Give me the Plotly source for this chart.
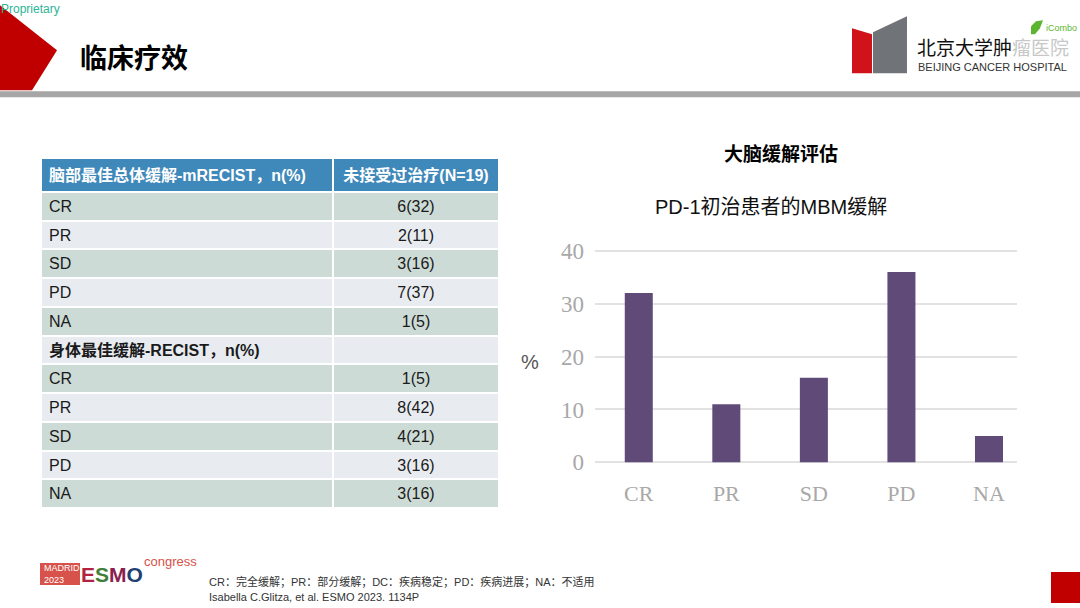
import plotly.graph_objects as go

W, H = 1080, 608

# ---------------- data ----------------
categories = ["CR", "PR", "SD", "PD", "NA"]
brain_pct_bars = [32, 11, 16, 36, 5]
y_ticks = [0, 10, 20, 30, 40]

table_header = ["脑部最佳总体缓解-mRECIST，n(%)", "未接受过治疗(N=19)"]
brain_labels = ["CR", "PR", "SD", "PD", "NA"]
brain_n = [6, 2, 3, 7, 1]
brain_pct = [32, 11, 16, 37, 5]
body_section = "身体最佳缓解-RECIST，n(%)"
body_labels = ["CR", "PR", "SD", "PD", "NA"]
body_n = [1, 8, 4, 3, 3]
body_pct = [5, 42, 21, 16, 16]

title_text = "临床疗效"
chart_title = "大脑缓解评估"
chart_subtitle = "PD-1初治患者的MBM缓解"
footnote1 = "CR：完全缓解；PR：部分缓解；DC：疾病稳定；PD：疾病进展；NA：不适用"
footnote2 = "Isabella C.Glitza, et al. ESMO 2023. 1134P"
esmo_letters = ["E", "S", "M", "O"]
esmo_colors = ["#b3233f", "#3f7f3a", "#8a1f4e", "#1f3f73"]

SANS = "Arial, 'Liberation Sans', 'Noto Sans CJK SC', sans-serif"
CJK = "'Noto Sans CJK SC', 'Liberation Sans', sans-serif"
SERIF = "'Liberation Serif', 'Times New Roman', serif"

# vertical calibration of paper coordinates in the photographed page
# (observed: shown = 6.8 + 0.9757 * set)
Y_OFF, Y_SCALE = 6.8, 0.9757


def px(x):
    return x / W


def py(y):
    return 1 - ((y - Y_OFF) / Y_SCALE) / H


def path(points):
    return "M " + " L ".join(f"{px(x):.5f},{py(y):.5f}" for x, y in points) + " Z"


fig = go.Figure()

# ---------------- table ----------------
TABLE_TOP, HEADER_H, ROW_H = 157.7, 33.3, 28.75
col1 = brain_labels + [""] + body_labels          # section title drawn as bold overlay text
col2 = [f"{n}({p})" for n, p in zip(brain_n, brain_pct)] + [""] + \
       [f"{n}({p})" for n, p in zip(body_n, body_pct)]
DARK = "#cddbd7"
LIGHT = "#e8ecf1"
row_fill = [DARK if i % 2 == 0 else LIGHT for i in range(len(col1))]

fig.add_trace(go.Table(
    domain=dict(x=[px(41), px(499)], y=[py(540), py(TABLE_TOP)]),
    columnwidth=[292, 166],
    header=dict(
        values=[f"<b>{h}</b>" for h in table_header],
        fill_color="#3f88ba",
        line=dict(color="white", width=2),
        align=["left", "center"],
        font=dict(family=SANS, size=16, color="white"),
        height=HEADER_H,
    ),
    cells=dict(
        values=[col1, col2],
        fill_color=[row_fill, row_fill],
        line=dict(color="white", width=2),
        align=["left", "center"],
        font=dict(family=SANS, size=16, color="#1a1a1a"),
        height=ROW_H,
    ),
))

# ---------------- bar chart ----------------
fig.add_trace(go.Bar(
    x=categories, y=brain_pct_bars,
    marker=dict(color="#5f4a78", line=dict(width=0)),
    width=0.32, hoverinfo="x+y", showlegend=False,
    xaxis="x", yaxis="y",
))

fig.update_layout(
    width=W, height=H,
    margin=dict(l=0, r=0, t=0, b=0),
    paper_bgcolor="white", plot_bgcolor="white",
    showlegend=False,
    xaxis=dict(
        domain=[px(595), px(1017)],
        range=[-0.5, 4.32],
        showgrid=False, zeroline=False, showline=False,
        ticks="", tickfont=dict(family=SERIF, size=22, color="#a8a8a8"),
        ticklabelstandoff=10,
    ),
    yaxis=dict(
        domain=[py(467.6), py(245.4)],
        range=[-1, 41],
        tickvals=y_ticks,
        showgrid=True, gridcolor="#e2e2e2", gridwidth=2,
        zeroline=False, showline=False, ticks="",
        tickfont=dict(family=SERIF, size=23, color="#a8a8a8"),
        ticklabelstandoff=10,
    ),
)

# ---------------- slide decorations ----------------
shapes = []
shapes.append(dict(type="path", xref="paper", yref="paper",
                   path=path([(0, 5), (57, 50), (32, 90), (0, 90)]),
                   fillcolor="#c00000", line=dict(width=0), layer="below"))
shapes.append(dict(type="rect", xref="paper", yref="paper",
                   x0=0, x1=1, y0=py(97), y1=py(91),
                   fillcolor="#a6a6a6", line=dict(width=0)))
shapes.append(dict(type="path", xref="paper", yref="paper",
                   path=path([(873, 32), (907, 16), (907, 73), (873, 73)]),
                   fillcolor="#707478", line=dict(width=0)))
shapes.append(dict(type="path", xref="paper", yref="paper",
                   path=path([(852, 28), (872, 34), (872, 73), (852, 73)]),
                   fillcolor="#d0121b", line=dict(width=0)))
shapes.append(dict(type="path", xref="paper", yref="paper",
                   path=path([(1031, 34), (1031, 26), (1036, 21), (1043, 20), (1040, 28), (1035, 34)]),
                   fillcolor="#5cb531", line=dict(width=0)))
shapes.append(dict(type="rect", xref="paper", yref="paper",
                   x0=px(40), x1=px(80), y0=py(585), y1=py(563),
                   fillcolor="#d6524a", line=dict(width=0)))
shapes.append(dict(type="rect", xref="paper", yref="paper",
                   x0=px(1051), x1=1, y0=py(603), y1=py(572),
                   fillcolor="#c00000", line=dict(width=0)))
fig.update_layout(shapes=shapes)

ann = []


def text(x, y, s, size, color="#000", family=SANS, xanchor="left", bold=False):
    ann.append(dict(x=px(x), y=py(y), xref="paper", yref="paper",
                    text=f"<b>{s}</b>" if bold else s, showarrow=False,
                    xanchor=xanchor, yanchor="middle",
                    font=dict(size=size, color=color, family=family)))


text(-1, 9, "Proprietary", 12, "#2bb597")
text(78, 56, title_text, 27, "#000", CJK, bold=True)
text(915, 46, "北京大学肿<span style='color:#c8c8c8'>瘤医院</span>", 19, "#111", CJK)
text(916, 67, "BEIJING CANCER HOSPITAL", 11, "#333")
text(1044, 28, "iCombo", 9, "#5cb531")
text(781, 152, chart_title, 19, "#000", CJK, xanchor="center", bold=True)
text(771, 207, chart_subtitle, 20, "#111", SANS, xanchor="center")
text(530, 362, "%", 20, "#555", SANS, xanchor="center")
# section title inside the table (row 6)
section_y = TABLE_TOP + HEADER_H + 5 * ROW_H + ROW_H / 2 + 1
text(47, section_y, body_section, 16, "#1a1a1a", SANS, bold=True)
text(207, 582, footnote1, 11, "#333")
text(207, 597, footnote2, 11, "#333")
ann.append(dict(x=px(42), y=py(574), xref="paper", yref="paper",
                text="MADRID<br>2023", showarrow=False, xanchor="left", yanchor="middle",
                align="left", font=dict(size=9, color="white", family=SANS)))
esmo = "".join(f"<span style='color:{c}'>{ch}</span>" for ch, c in zip(esmo_letters, esmo_colors))
ann.append(dict(x=px(79), y=py(575), xref="paper", yref="paper",
                text=f"<b>{esmo}</b>", showarrow=False, xanchor="left", yanchor="middle",
                font=dict(size=21, family=SANS)))
text(142, 562, "congress", 13, "#d6524a")
fig.update_layout(annotations=ann)

fig.write_html(
    "out.html",
    config={"displayModeBar": False},
    post_script=(
        "document.documentElement.style.margin='0';"
        "document.body.style.margin='0';document.body.style.overflow='hidden';"
        "var d=document.getElementById('{plot_id}');"
        "d.style.position='fixed';d.style.top='0px';d.style.left='0px';"
    ),
)
